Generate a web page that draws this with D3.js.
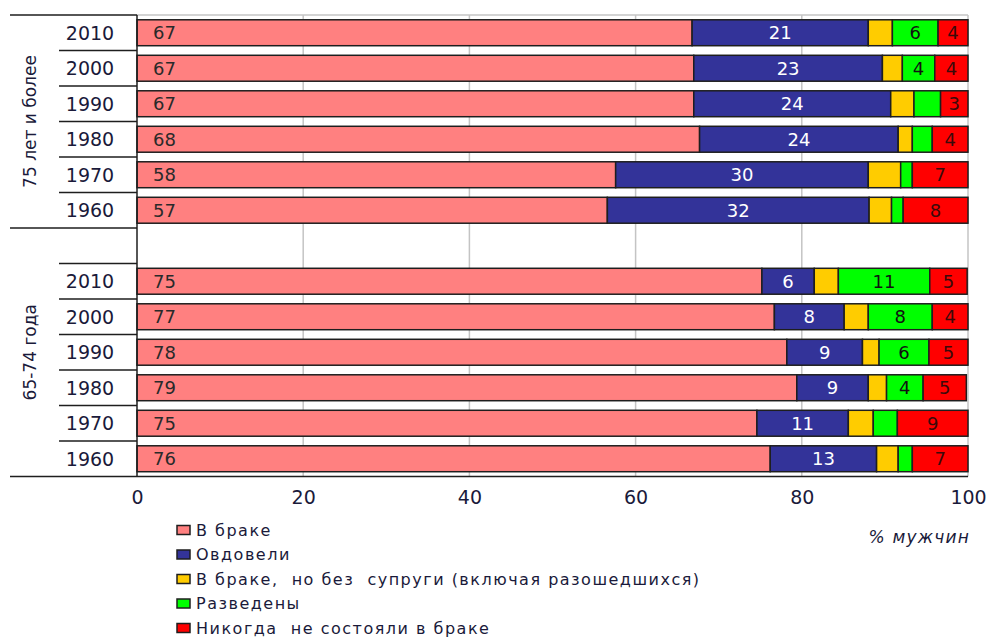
<!DOCTYPE html>
<html><head><meta charset="utf-8">
<script src="https://cdn.jsdelivr.net/npm/d3@7/dist/d3.min.js"></script>
<style>body{margin:0;background:#fff}text{white-space:pre}</style>
</head><body>
<svg id="chart" width="990" height="639"></svg>
<script>
const groups = ["75 лет и более", "65-74 года"];
const years = ["2010", "2000", "1990", "1980", "1970", "1960"];
const seriesNames = ["В браке", "Овдовели", "В браке,  но без  супруги (включая разошедшихся)", "Разведены", "Никогда  не состояли в браке"];
// 75+ group, rows 2010..1960
const married75   = [66.8, 67.0, 67.0, 67.7, 57.6, 56.6];
const widowed75   = [21.2, 22.7, 23.7, 23.9, 30.4, 31.5];
const separated75 = [2.9, 2.4, 2.8, 1.7, 3.9, 2.7];
const divorced75  = [5.5, 3.9, 3.2, 2.4, 1.4, 1.4];
const never75     = [3.6, 4.0, 3.3, 4.3, 6.7, 7.8];
// 65-74 group, rows 2010..1960
const married65   = [75.2, 76.7, 78.2, 79.4, 74.6, 76.2];
const widowed65   = [6.3, 8.4, 9.1, 8.6, 11.0, 12.8];
const separated65 = [2.9, 2.9, 2.0, 2.2, 3.0, 2.6];
const divorced65  = [11.0, 7.7, 6.0, 4.4, 2.9, 1.7];
const never65     = [4.5, 4.3, 4.7, 5.2, 8.5, 6.7];
const xTicks = [0, 20, 40, 60, 80, 100];
const unitLabel = "% мужчин";

const colors = ["#FF8080", "#333399", "#FFCC00", "#00FF00", "#FF0000"];
const labelColors = ["#2a2a2a", "#ffffff", null, "#111111", "#3a0a0a"];
const FONT = "DejaVu Sans, Arial, sans-serif";

const svg = d3.select("#chart");
const rows = [];
years.forEach((y, i) => rows.push({id: "a" + y, year: y, vals: [married75[i], widowed75[i], separated75[i], divorced75[i], never75[i]]}));
rows.push({id: "gap", year: null});
years.forEach((y, i) => rows.push({id: "b" + y, year: y, vals: [married65[i], widowed65[i], separated65[i], divorced65[i], never65[i]]}));

const x = d3.scaleLinear().domain([0, 100]).range([137, 968]);
const yB = d3.scaleBand().domain(rows.map(r => r.id)).range([15, 476.5]).paddingInner(0.27).paddingOuter(0.135);
const step = yB.step();

// gridlines
svg.append("g").selectAll("line").data(xTicks.filter(t => t > 0)).join("line")
  .attr("x1", d => x(d)).attr("x2", d => x(d)).attr("y1", 15).attr("y2", 476.5)
  .attr("stroke", "#c4c4c4").attr("stroke-width", 1.5);
svg.append("line").attr("x1", x(0)).attr("x2", x(100)).attr("y1", 15).attr("y2", 15)
  .attr("stroke", "#c4c4c4").attr("stroke-width", 1.5);

// bars
const barRows = rows.filter(r => r.year);
const segs = [];
barRows.forEach(r => {
  let acc = 0;
  r.vals.forEach((v, k) => { segs.push({row: r.id, k, v, x0: acc, x1: acc + v}); acc += v; });
});
svg.append("g").selectAll("rect").data(segs).join("rect")
  .attr("x", d => x(d.x0)).attr("width", d => x(d.x1) - x(d.x0))
  .attr("y", d => yB(d.row)).attr("height", yB.bandwidth())
  .attr("fill", d => colors[d.k]).attr("stroke", "#1e1e1e").attr("stroke-width", 1.5);

// labels
const lab = segs.filter(d => d.k !== 2 && !(d.k === 3 && d.v < 3.5));
svg.append("g").selectAll("text").data(lab).join("text")
  .attr("x", d => d.k === 0 ? x(d.x0) + 16 : x((d.x0 + d.x1) / 2))
  .attr("y", d => yB(d.row) + yB.bandwidth() / 2)
  .attr("dy", "0.36em")
  .attr("text-anchor", d => d.k === 0 ? "start" : "middle")
  .attr("font-family", FONT).attr("font-size", 18)
  .attr("fill", d => labelColors[d.k])
  .text(d => Math.round(d.v));

// left table lines
const lg = svg.append("g").attr("stroke", "#1e1e1e").attr("stroke-width", 1.5);
lg.append("line").attr("x1", x(0)).attr("x2", x(0)).attr("y1", 15).attr("y2", 476.5);
[15, 15 + 6 * step].forEach(yy => lg.append("line").attr("x1", 10).attr("x2", x(0)).attr("y1", yy).attr("y2", yy));
rows.forEach((r, i) => {
  if (!r.year || i === 0) return;
  const t = 15 + i * step;
  lg.append("line").attr("x1", 59).attr("x2", x(0)).attr("y1", t).attr("y2", t);
});
lg.append("line").attr("x1", 10).attr("x2", x(100)).attr("y1", 476.5).attr("y2", 476.5);

// year labels
svg.append("g").selectAll("text").data(barRows).join("text")
  .attr("x", 90).attr("y", d => yB(d.id) + yB.bandwidth() / 2).attr("dy", "0.36em")
  .attr("text-anchor", "middle").attr("font-family", FONT).attr("font-size", 19).attr("fill", "#1a1a3a")
  .text(d => d.year);

// group labels
const gCenters = [(15 + 15 + 6 * step) / 2, (15 + 6 * step + 476.5) / 2];
svg.append("g").selectAll("text").data(groups).join("text")
  .attr("transform", (d, i) => `translate(30,${gCenters[i]}) rotate(-90)`)
  .attr("dy", "0.36em").attr("text-anchor", "middle")
  .attr("font-family", FONT).attr("font-size", 17).attr("fill", "#1a1a3a")
  .text(d => d);

// x axis labels
const xAxis = d3.axisBottom(x).tickValues(xTicks).tickSize(0).tickPadding(0).tickFormat(d3.format("d"));
const ax = svg.append("g").attr("transform", "translate(0,490)").call(xAxis);
ax.select(".domain").remove();
ax.selectAll("text").attr("font-family", FONT).attr("font-size", 19).attr("fill", "#1a1a3a").attr("dy", "0.71em");

svg.append("text").attr("x", 970).attr("y", 543).attr("text-anchor", "end")
  .attr("font-family", FONT).attr("font-style", "italic").attr("font-size", 17)
  .attr("letter-spacing", 1.2).attr("fill", "#1a1a3a")
  .text(unitLabel);

// legend
const leg = svg.append("g").selectAll("g").data(seriesNames).join("g")
  .attr("transform", (d, i) => `translate(177,${530 + i * 24.5})`);
leg.append("rect").attr("x", 0).attr("y", -4.5).attr("width", 13).attr("height", 9)
  .attr("fill", (d, i) => colors[i]).attr("stroke", "#1e1e1e").attr("stroke-width", 1.5);
leg.append("text").attr("x", 19).attr("y", 0).attr("dy", "0.36em")
  .attr("font-family", FONT).attr("font-size", 16).attr("letter-spacing", 1.5)
  .attr("fill", "#1a1a3a").text(d => d);
</script>
</body></html>
